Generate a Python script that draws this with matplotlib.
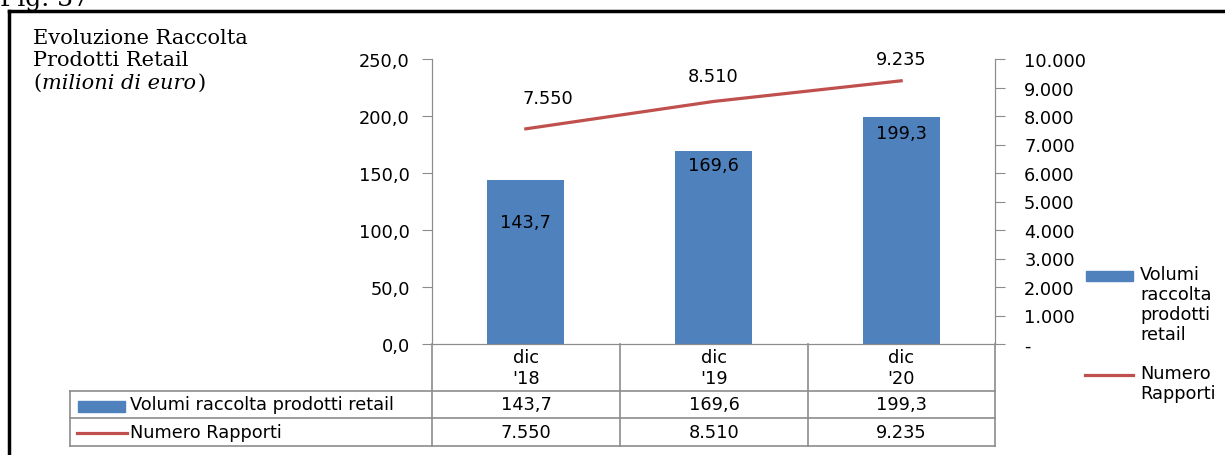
import matplotlib.pyplot as plt
from matplotlib.patches import Rectangle
from matplotlib.lines import Line2D

categories = ["dic\n'18", "dic\n'19", "dic\n'20"]
volumi = [143.7, 169.6, 199.3]
rapporti = [7550, 8510, 9235]
volumi_labels = ["143,7", "169,6", "199,3"]
rapporti_labels = ["7.550", "8.510", "9.235"]
left_ticks = [0, 50, 100, 150, 200, 250]
left_ticklabels = ["0,0", "50,0", "100,0", "150,0", "200,0", "250,0"]
right_ticks = [0, 1000, 2000, 3000, 4000, 5000, 6000, 7000, 8000, 9000, 10000]
right_ticklabels = ["-", "1.000", "2.000", "3.000", "4.000", "5.000",
                    "6.000", "7.000", "8.000", "9.000", "10.000"]

BLUE = "#4F81BD"
RED = "#C0504D"
GRID = "#8c8c8c"
W, H = 1225, 456
SANS = "DejaVu Sans"
SERIF = "DejaVu Serif"
FS = 12.8


def fx(x):
    return x / W


def fy(y):
    return 1 - y / H


fig = plt.figure(figsize=(12.25, 4.56), dpi=100)
ax = fig.add_axes([fx(432), fy(345), fx(995) - fx(432), fy(60) - fy(345)])
ax2 = ax.twinx()

x = list(range(len(categories)))
ax.bar(x, volumi, width=0.41, color=BLUE, zorder=2)
ax.set_xlim(-0.5, 2.5)
ax.set_ylim(0, 250)
ax.set_yticks(left_ticks)
ax.set_yticklabels(left_ticklabels, fontsize=FS, family=SANS)
ax.set_xticks([])
ax.tick_params(axis="y", direction="out", length=7, color=GRID, pad=9)

ax2.plot(x, rapporti, color=RED, lw=2.3, zorder=3)
ax2.set_ylim(0, 10000)
ax2.set_yticks(right_ticks)
ax2.set_yticklabels(right_ticklabels, fontsize=FS, family=SANS)
ax2.tick_params(axis="y", direction="out", length=7, color=GRID, pad=14)

for a in (ax, ax2):
    a.spines["top"].set_visible(False)
    a.spines["left"].set_color(GRID)
    a.spines["right"].set_color(GRID)
    a.spines["bottom"].set_color(GRID)

# bar value labels inside bars
bar_offsets = [-30, -10, -12]
for xi, v, lab, off in zip(x, volumi, volumi_labels, bar_offsets):
    ax.annotate(lab, (xi, v), xytext=(0, off), textcoords="offset points",
                ha="center", va="center", fontsize=FS, family=SANS)

# line value labels
line_offsets = [(16, 22), (0, 18), (0, 16)]
for xi, v, lab, off in zip(x, rapporti, rapporti_labels, line_offsets):
    ax2.annotate(lab, (xi, v), xytext=off, textcoords="offset points",
                 ha="center", va="center", fontsize=FS, family=SANS)

# data table below the plot
rows_y = [fy(345), fy(392), fy(419), fy(447)]
cols_x = [fx(432), fx(620), fx(808), fx(995)]
lab_left = fx(70)
for yy in rows_y[1:]:
    fig.add_artist(Line2D([lab_left, cols_x[-1]], [yy, yy], color=GRID, lw=1.2))
fig.add_artist(Line2D([lab_left, lab_left], [rows_y[1], rows_y[3]], color=GRID, lw=1.2))
for xx in cols_x:
    fig.add_artist(Line2D([xx, xx], [rows_y[0], rows_y[3]], color=GRID, lw=1.2))

for i, cat in enumerate(categories):
    cx = (cols_x[i] + cols_x[i + 1]) / 2
    fig.text(cx, (rows_y[0] + rows_y[1]) / 2, cat, ha="center", va="center",
             fontsize=FS, family=SANS, linespacing=1.2)
    fig.text(cx, (rows_y[1] + rows_y[2]) / 2, volumi_labels[i], ha="center",
             va="center", fontsize=FS, family=SANS)
    fig.text(cx, (rows_y[2] + rows_y[3]) / 2, rapporti_labels[i], ha="center",
             va="center", fontsize=FS, family=SANS)

fig.add_artist(Rectangle((fx(78), fy(413)), fx(125) - fx(78), fy(402) - fy(413),
                         color=BLUE, transform=fig.transFigure))
fig.text(fx(130), (rows_y[1] + rows_y[2]) / 2, "Volumi raccolta prodotti retail",
         ha="left", va="center", fontsize=FS, family=SANS)
fig.add_artist(Line2D([fx(77), fx(127)], [fy(434), fy(434)], color=RED, lw=2.3))
fig.text(fx(130), (rows_y[2] + rows_y[3]) / 2, "Numero Rapporti",
         ha="left", va="center", fontsize=FS, family=SANS)

# legend on the right
fig.add_artist(Rectangle((fx(1086), fy(282)), fx(1133) - fx(1086), fy(272) - fy(282),
                         color=BLUE, transform=fig.transFigure))
fig.text(fx(1140), fy(266), "Volumi\nraccolta\nprodotti\nretail", ha="left", va="top",
         fontsize=FS, family=SANS, linespacing=1.15)
fig.add_artist(Line2D([fx(1085), fx(1133)], [fy(376), fy(376)], color=RED, lw=2.3))
fig.text(fx(1140), fy(365), "Numero\nRapporti", ha="left", va="top",
         fontsize=FS, family=SANS, linespacing=1.15)

# title block
TFS = 15
fig.text(fx(33), fy(38), "Evoluzione Raccolta", ha="left", va="center",
         fontsize=TFS, family=SERIF)
fig.text(fx(33), fy(61), "Prodotti Retail", ha="left", va="center",
         fontsize=TFS, family=SERIF)
t1 = fig.text(fx(33), fy(84), "(", ha="left", va="center", fontsize=TFS, family=SERIF)
t2 = fig.text(0, 0, "milioni di euro", fontsize=TFS, family=SERIF, style="italic",
              ha="left", va="baseline")
t3 = fig.text(0, 0, ")", fontsize=TFS, family=SERIF, ha="left", va="baseline")
fig.canvas.draw()
r = fig.canvas.get_renderer()
bb1 = t1.get_window_extent(r)
t2.set_position((bb1.x1 / fig.bbox.width + 0.001, fy(89)))
fig.canvas.draw()
bb2 = t2.get_window_extent(r)
t3.set_position((bb2.x1 / fig.bbox.width + 0.001, fy(89)))
t1.set_position((fx(33), fy(89)))
t1.set_va("baseline")

fig.text(0, fy(6), "Fig. 37", ha="left", va="baseline", fontsize=18, family=SERIF)

# outer frame
fig.add_artist(Line2D([fx(9), fx(9)], [fy(12), 0], color="black", lw=2.5))
fig.add_artist(Line2D([fx(9), 1], [fy(12), fy(12)], color="black", lw=2.5))

fig.savefig("out.png", dpi=100)
